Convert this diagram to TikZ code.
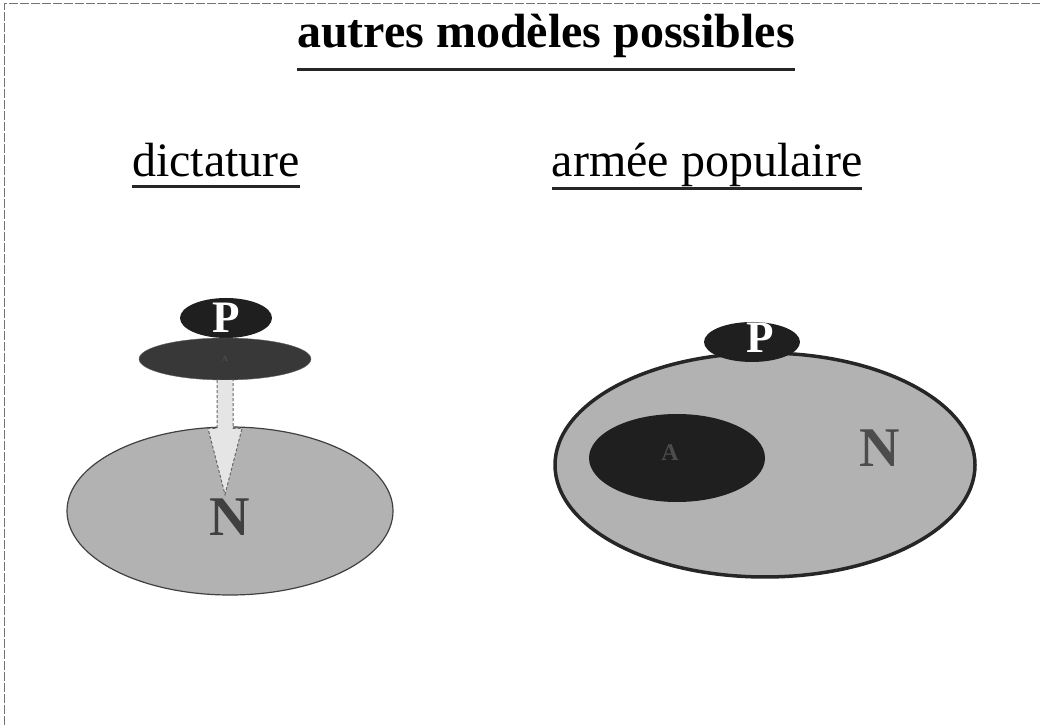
\documentclass[tikz,border=0pt]{standalone}
\usepackage{fontspec}
\setmainfont{Liberation Serif}
\usetikzlibrary{shapes.geometric, calc, positioning}

\tikzset{
  disque/.style={ellipse, inner sep=0pt},
  lettre/.style={font=\bfseries\fontsize{#1}{#1}\selectfont, inner sep=0pt},
  souligne/.style={line width=3pt, black!85},
  fleche/.style={fill=black!10, draw=black!60, densely dashed, line width=1pt}
}

\begin{document}
\begin{tikzpicture}[x=1pt, y=1pt]
    \useasboundingbox (0,0) rectangle (1040,725);
    \def\taille{48}   % corps des titres

    % Cadre de la page (bords haut et gauche)
    \draw[black!55, line width=1pt, dash pattern=on 9pt off 2pt]
        (4,0) -- (4,721) -- (1040,721);

    % Titres
    \node[anchor=base, inner sep=0pt, font=\bfseries\fontsize{\taille}{\taille}\selectfont]
        (titre) at (546,677) {autres modèles possibles};
    \draw[souligne] ($(titre.base west)+(0,-22)$) -- ($(titre.base east)+(0,-22)$);

    \node[anchor=base, inner sep=0pt, font=\fontsize{\taille}{\taille}\selectfont]
        (dict) at (216,548) {dictature};
    \draw[souligne] ($(dict.base west)+(0,-10)$) -- ($(dict.base east)+(0,-10)$);

    \node[anchor=base, inner sep=0pt, font=\fontsize{\taille}{\taille}\selectfont]
        (armee) at (707,548) {armée populaire};
    \draw[souligne] ($(armee.base west)+(0,-12)$) -- ($(armee.base east)+(0,-12)$);

    % Dictature : P, A, puis N
    \node[disque, fill=black!30, draw=black!75, line width=1.2pt,
          minimum width=326, minimum height=168] (nationD) at (230,214) {};
    \node[disque, fill=black!88, minimum width=92, minimum height=40] (partiD) at (226,407) {};
    \node[lettre=45, white] at (partiD) {P};
    \node[disque, fill=black!78, draw=black!60, minimum width=172, minimum height=42]
        (armeeD) at (225,366) {};
    \node[lettre=8, black!70] (aD) at (armeeD) {A};
    \node[lettre=56, black!75] (nD) at (230,208) {N};

    \coordinate (pointeD) at ($(armeeD.south |- nD.north)+(0,4)$);
    \draw[fleche] ($(armeeD.south)+(-8,0)$) -- ($(pointeD)+(-8,66)$)
        -- ($(pointeD)+(-17,66)$) -- (pointeD) -- ($(pointeD)+(17,66)$)
        -- ($(pointeD)+(8,66)$) -- ($(armeeD.south)+(8,0)$);

    % Armée populaire : A dans N, P au bord
    \node[disque, fill=black!30, draw=black!85, line width=3.5pt,
          minimum width=420, minimum height=224] (nationA) at (765,260) {};
    \node[disque, fill=black!88, minimum width=96, minimum height=40] (partiA) at (752,383) {};
    \node[lettre=45, white] at ($(partiA)+(8,4)$) {P};
    \node[disque, fill=black!88, minimum width=176, minimum height=88] (armeeA) at (677,267) {};
    \node[lettre=24, black!70] (aA) at ($(armeeA)+(-7,5)$) {A};
    \node[lettre=56, black!70] (nA) at (880,277) {N};
\end{tikzpicture}
\end{document}
